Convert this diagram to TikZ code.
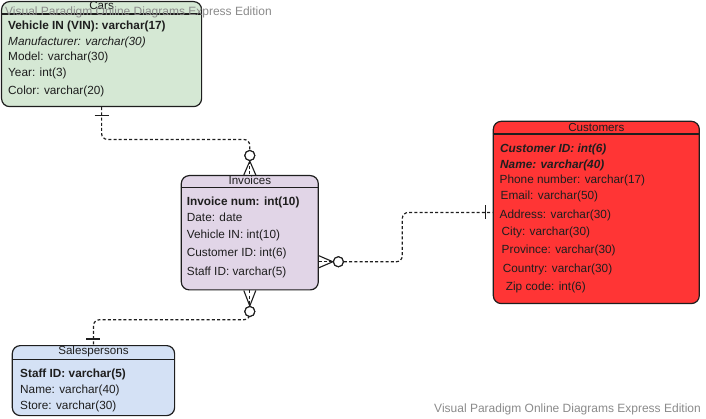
\documentclass[tikz,border=0pt]{standalone}
\usepackage{fontspec}
\setmainfont{Liberation Sans}
\usetikzlibrary{calc}
\definecolor{carsfill}{HTML}{D5E8D4}
\definecolor{invfill}{HTML}{E1D5E7}
\definecolor{custfill}{HTML}{FF3535}
\definecolor{salesfill}{HTML}{D4E1F5}
\definecolor{wmgray}{HTML}{8A8A8A}
\definecolor{ink}{HTML}{1E1E1E}
\begin{document}
\begin{tikzpicture}[x=1pt,y=-1pt,
  tbl/.style={draw=ink, line width=1.2pt, rounded corners=8pt, anchor=north west, inner sep=0pt},
  hline/.style={draw=ink, line width=1.1pt},
  ttl/.style={inner sep=0pt, text=ink, font=\fontsize{11.6}{13}\selectfont},
  row/.style={anchor=west, inner sep=0pt, text=ink, font=\fontsize{11.8}{14}\selectfont},
  conn/.style={draw=ink, line width=1.2pt, dash pattern=on 3pt off 2.2pt, rounded corners=6pt},
  foot/.style={draw=ink, line width=1.1pt},
  zc/.style={circle, draw=ink, fill=white, minimum size=10pt, inner sep=0pt, line width=1.1pt},
  wm/.style={inner sep=0pt, text=wmgray, font=\fontsize{12}{14}\selectfont}]
\useasboundingbox (0,0) rectangle (706,419);

% tables
\node[tbl, fill=carsfill, minimum width=200pt, minimum height=105pt] (cars) at (1,1) {};
\node[tbl, fill=invfill, minimum width=137pt, minimum height=114.3pt] (inv) at (180.7,175) {};
\node[tbl, fill=custfill, minimum width=206pt, minimum height=182.3pt] (cust) at (492.7,120.7) {};
\node[tbl, fill=salesfill, minimum width=162.3pt, minimum height=70pt] (sales) at (11.7,345) {};

% header lines
\draw[hline] ($(cars.north west)+(0,13)$) -- ($(cars.north east)+(0,13)$);
\draw[hline] ($(inv.north west)+(0,12.3)$) -- ($(inv.north east)+(0,12.3)$);
\draw[hline] ($(cust.north west)+(0,13.3)$) -- ($(cust.north east)+(0,13.3)$);
\draw[hline] ($(sales.north west)+(0,14.3)$) -- ($(sales.north east)+(0,14.3)$);

% titles
\node[ttl] (carsT) at ($(cars.north)+(0,5)$) {Cars};
\node[ttl] (invT) at ($(inv.north)+(0,5.8)$) {Invoices};
\node[ttl] (custT) at ($(cust.north)+(0,6.4)$) {Customers};
\node[ttl] (salesT) at ($(sales.north)+(0,7)$) {Salespersons};

% Cars rows
\node[row] (c1) at (8,26) {\textbf{Vehicle IN (VIN): varchar(17)}};
\node[row] (c2) at (8,42) {\textit{Manufacturer: varchar(30)}};
\node[row] (c3) at (8,57.7) {Model: varchar(30)};
\node[row] (c4) at (8,73.7) {Year: int(3)};
\node[row] (c5) at (8,91.7) {Color: varchar(20)};

% Invoices rows
\node[row] (i1) at (186.7,202) {\textbf{Invoice num: int(10)}};
\node[row] (i2) at (186.7,217.5) {Date: date};
\node[row] (i3) at (186.7,235) {Vehicle IN: int(10)};
\node[row] (i4) at (186.7,253) {Customer ID: int(6)};
\node[row] (i5) at (186.7,272) {Staff ID: varchar(5)};

% Customers rows
\node[row] (u1) at (500,149) {\textbf{\textit{Customer ID: int(6)}}};
\node[row] (u2) at (500,165) {\textbf{\textit{Name: varchar(40)}}};
\node[row] (u3) at (499.5,180.7) {Phone number: varchar(17)};
\node[row] (u4) at (500.5,196.7) {Email: varchar(50)};
\node[row] (u5) at (499.5,215) {Address: varchar(30)};
\node[row] (u6) at (501.5,232.7) {City: varchar(30)};
\node[row] (u7) at (501.5,250) {Province: varchar(30)};
\node[row] (u8) at (502.7,269) {Country: varchar(30)};
\node[row] (u9) at (505.7,287.7) {Zip code: int(6)};

% Salespersons rows
\node[row] (s1) at (20,374) {\textbf{Staff ID: varchar(5)}};
\node[row] (s2) at (20,390.7) {Name: varchar(40)};
\node[row] (s3) at (20,406.7) {Store: varchar(30)};

% connector Cars -- Invoices
\node[zc] (o1) at ($(inv.north)+(0,-19.5)$) {};
\draw[conn] (cars.south) |- ($(o1)+(0,-16)$) -- (o1.north);
\draw[conn] (o1.south) -- (inv.north);
\node[zc] at (o1) {};
\draw[foot] ($(inv.north)+(-6,0)$) -- (o1.south) -- ($(inv.north)+(6,0)$);
\draw[foot] ($(cars.south)+(-7,8)$) -- ($(cars.south)+(7,8)$);

% connector Invoices -- Customers
\coordinate (ie) at ($(inv.east)+(0,29)$);
\coordinate (mid) at ($(ie)!0.48!(cust.west)$);
\node[zc] (o2) at ($(ie)+(19.5,0)$) {};
\draw[conn] (o2.east) -- (mid |- o2) |- (cust.west);
\draw[conn] (ie) -- (o2.west);
\node[zc] at (o2) {};
\draw[foot] ($(ie)+(0,-6)$) -- (o2.west) -- ($(ie)+(0,6)$);
\draw[foot] ($(cust.west)+(-7,-7)$) -- ($(cust.west)+(-7,7)$);

% connector Invoices -- Salespersons
\node[zc] (o3) at ($(inv.south)+(0,21)$) {};
\draw[conn] (o3.south) -- ++(0,2.7) -| (sales.north);
\draw[conn] (inv.south) -- (o3.north);
\node[zc] at (o3) {};
\draw[foot] ($(inv.south)+(-6,0)$) -- (o3.north) -- ($(inv.south)+(6,0)$);
\draw[foot] ($(sales.north)+(-7,-6)$) -- ($(sales.north)+(7,-6)$);

% watermarks
\node[wm, anchor=west] (wm1) at (5,12) {Visual Paradigm Online Diagrams Express Edition};
\node[wm, anchor=east] (wm2) at (701,409.5) {Visual Paradigm Online Diagrams Express Edition};
\end{tikzpicture}
\end{document}
